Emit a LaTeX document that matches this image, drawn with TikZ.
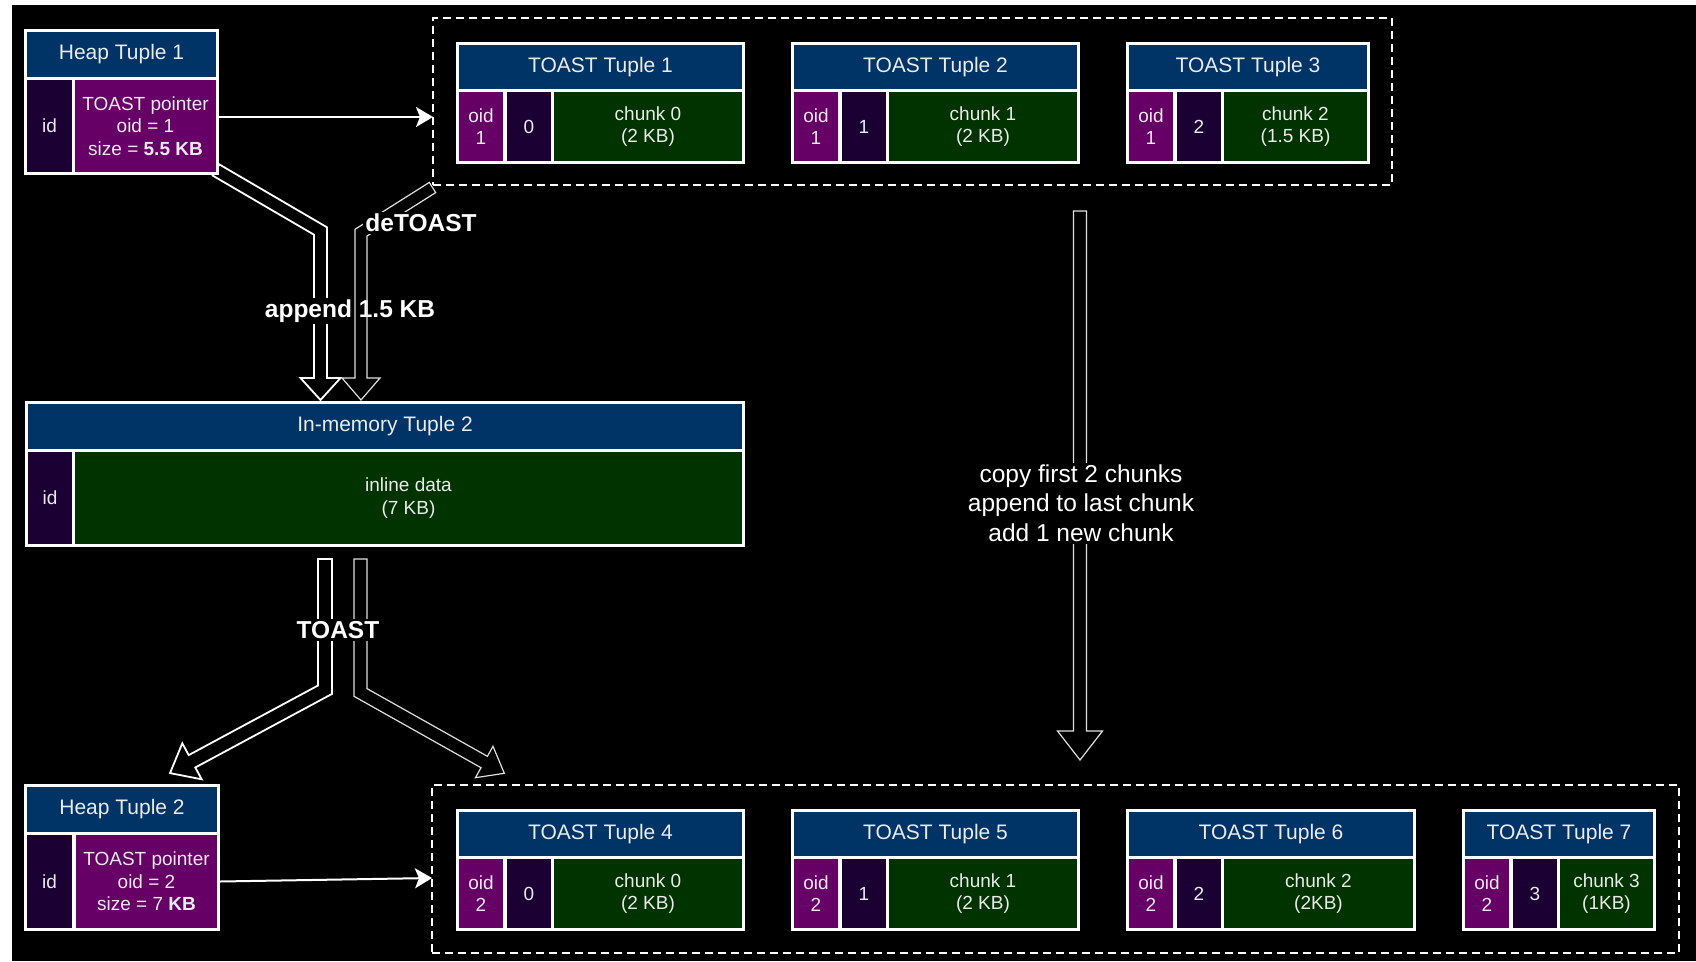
\documentclass[tikz,border=0pt]{standalone}
\usepackage{fontspec}
\setmainfont{Liberation Sans}
\usetikzlibrary{fit,arrows.meta}
\definecolor{hdr}{HTML}{003366}
\definecolor{oidc}{HTML}{660066}
\definecolor{idc}{HTML}{1A0033}
\definecolor{chk}{HTML}{003300}
\definecolor{txt}{HTML}{EBEBEB}
\tikzset{
  frame/.style={fill=white, draw=none, inner sep=0pt, outer sep=0pt},
  cellbox/.style={draw=none, inner sep=0pt, outer sep=0pt, text=txt, align=center, font=\fontsize{19}{22.5}\selectfont},
  hdrbox/.style={cellbox, fill=hdr, font=\fontsize{21}{25}\selectfont},
  oidbox/.style={cellbox, fill=oidc},
  idbox/.style={cellbox, fill=idc},
  chkbox/.style={cellbox, fill=chk},
  grpbox/.style={draw=white, line width=2pt, dash pattern=on 8pt off 5pt, inner sep=0pt, outer sep=0pt},
  ptr/.style={draw=white, line width=2pt, -{Stealth[length=17pt,width=20pt,inset=4pt]}},
  flexthick/.style={draw=white, line width=1.8pt, line join=miter},
  flexthin/.style={draw=white!88!black, line width=1.2pt, line join=miter},
  lblbold/.style={fill=black, text=white, inner sep=2pt, font=\bfseries\fontsize{24.5}{29}\selectfont},
  lblplain/.style={fill=black, text=white, inner sep=2pt, align=center, font=\fontsize{24.5}{29.5}\selectfont},
}
% cell: style, name, x1, y1, x2, y2, text
\newcommand\cellnode[7]{%
  \pgfmathsetmacro\cw{(#5)-(#3)}%
  \pgfmathsetmacro\chh{(#6)-(#4)}%
  \pgfmathsetmacro\ccx{((#3)+(#5))/2}%
  \pgfmathsetmacro\ccy{((#4)+(#6))/2}%
  \node[#1, minimum width=\cw pt, minimum height=\chh pt] (#2) at (\ccx,\ccy) {#7};%
}
\newcommand\toasttuple[8]{%
  \cellnode{frame}{#1}{#2}{#3}{#2+#4}{#3+122}{}
  \cellnode{hdrbox}{#1h}{#2+3}{#3+3}{#2+#4-3}{#3+47}{#5}
  \cellnode{oidbox}{#1o}{#2+3}{#3+50}{#2+47}{#3+119}{#6}
  \cellnode{idbox}{#1i}{#2+51}{#3+50}{#2+95}{#3+119}{#7}
  \cellnode{chkbox}{#1c}{#2+98}{#3+50}{#2+#4-3}{#3+119}{#8}
}
\begin{document}
\begin{tikzpicture}[x=1pt,y=-1pt]
\useasboundingbox (0,0) rectangle (1696,961);
\fill[white] (0,0) rectangle (1696,961);
\fill[black] (12,5) rectangle (1696,961);

% groups
\node[grpbox, fit={(433,18) (1392,185)}] (grp1) {};
\node[grpbox, fit={(432,785) (1679,953)}] (grp2) {};

% append arrow
\draw[flexthick] (219.3,164.4) -- (327,227.3) -- (327,378) -- (340.5,378) -- (320.5,400)
  -- (300.5,378) -- (314,378) -- (314,234.7) -- (212.7,175.6) -- cycle;
\node[lblbold] (lappend) at (350,311) {append 1.5 KB};
% deTOAST arrow
\draw[flexthin] (429.3,182.4) -- (355,229.3) -- (355,378) -- (342,378) -- (361,400)
  -- (380,378) -- (367,378) -- (367,236) -- (435.7,192.6) -- cycle;
\node[lblbold] (ldetoast) at (421,223) {deTOAST};

% TOAST arrows
\draw[flexthick] (318,559) -- (318,685.5) -- (188.7,755.1) -- (182.3,743.3) -- (170,773.1)
  -- (201.7,779.3) -- (195.3,767.5) -- (332,693.9) -- (332,559) -- cycle;
\draw[flexthin] (354,559) -- (354,696.3) -- (481,767.7) -- (475.4,777.7) -- (504.3,773.3)
  -- (493,746.3) -- (487.4,756.3) -- (367,688.6) -- (367,559) -- cycle;
\node[lblbold] (ltoast) at (338,630) {TOAST};

% copy arrow
\draw[flexthin] (1073.5,211) -- (1073.5,731) -- (1057.5,731) -- (1080,760) -- (1102.5,731)
  -- (1086.5,731) -- (1086.5,211) -- cycle;
\node[lblplain] (lcopy) at (1081,503) {copy first 2 chunks\\append to last chunk\\add 1 new chunk};

% Heap Tuple 1
\cellnode{frame}{ht1}{24}{29}{219}{175}{}
\cellnode{hdrbox}{ht1h}{27}{32}{216}{77}{Heap Tuple 1}
\cellnode{idbox}{ht1i}{27}{80}{72}{172}{id}
\cellnode{oidbox}{ht1p}{75}{80}{216}{172}{TOAST pointer\\oid = 1\\size = \textbf{5.5 KB}}

% Heap Tuple 2
\cellnode{frame}{ht2}{24}{784}{220}{931}{}
\cellnode{hdrbox}{ht2h}{27}{787}{217}{832}{Heap Tuple 2}
\cellnode{idbox}{ht2i}{27}{835}{72}{928}{id}
\cellnode{oidbox}{ht2p}{76}{835}{217}{928}{TOAST pointer\\oid = 2\\size = 7 \textbf{KB}}

% In-memory Tuple 2
\cellnode{frame}{imt}{25}{401}{745}{547}{}
\cellnode{hdrbox}{imth}{28}{404}{742}{449}{In-memory Tuple 2}
\cellnode{idbox}{imti}{28}{452}{72}{544}{id}
\cellnode{chkbox}{imtd}{75}{452}{742}{544}{inline data\\(7 KB)}

% TOAST tuples
\toasttuple{tt1}{456}{42}{289}{TOAST Tuple 1}{oid\\1}{0}{chunk 0\\(2 KB)}
\toasttuple{tt2}{791}{42}{289}{TOAST Tuple 2}{oid\\1}{1}{chunk 1\\(2 KB)}
\toasttuple{tt3}{1126}{42}{244}{TOAST Tuple 3}{oid\\1}{2}{chunk 2\\(1.5 KB)}
\toasttuple{tt4}{456}{809}{289}{TOAST Tuple 4}{oid\\2}{0}{chunk 0\\(2 KB)}
\toasttuple{tt5}{791}{809}{289}{TOAST Tuple 5}{oid\\2}{1}{chunk 1\\(2 KB)}
\toasttuple{tt6}{1126}{809}{290}{TOAST Tuple 6}{oid\\2}{2}{chunk 2\\(2KB)}
\toasttuple{tt7}{1462}{809}{194}{TOAST Tuple 7}{oid\\2}{3}{chunk 3\\(1KB)}

% pointer arrows
\draw[ptr] (ht1.east |- 0,117) -- (grp1.west |- 0,117);
\draw[ptr] (ht2.east |- ht2p.east) -- (grp2.west |- 0,878);
\end{tikzpicture}
\end{document}
